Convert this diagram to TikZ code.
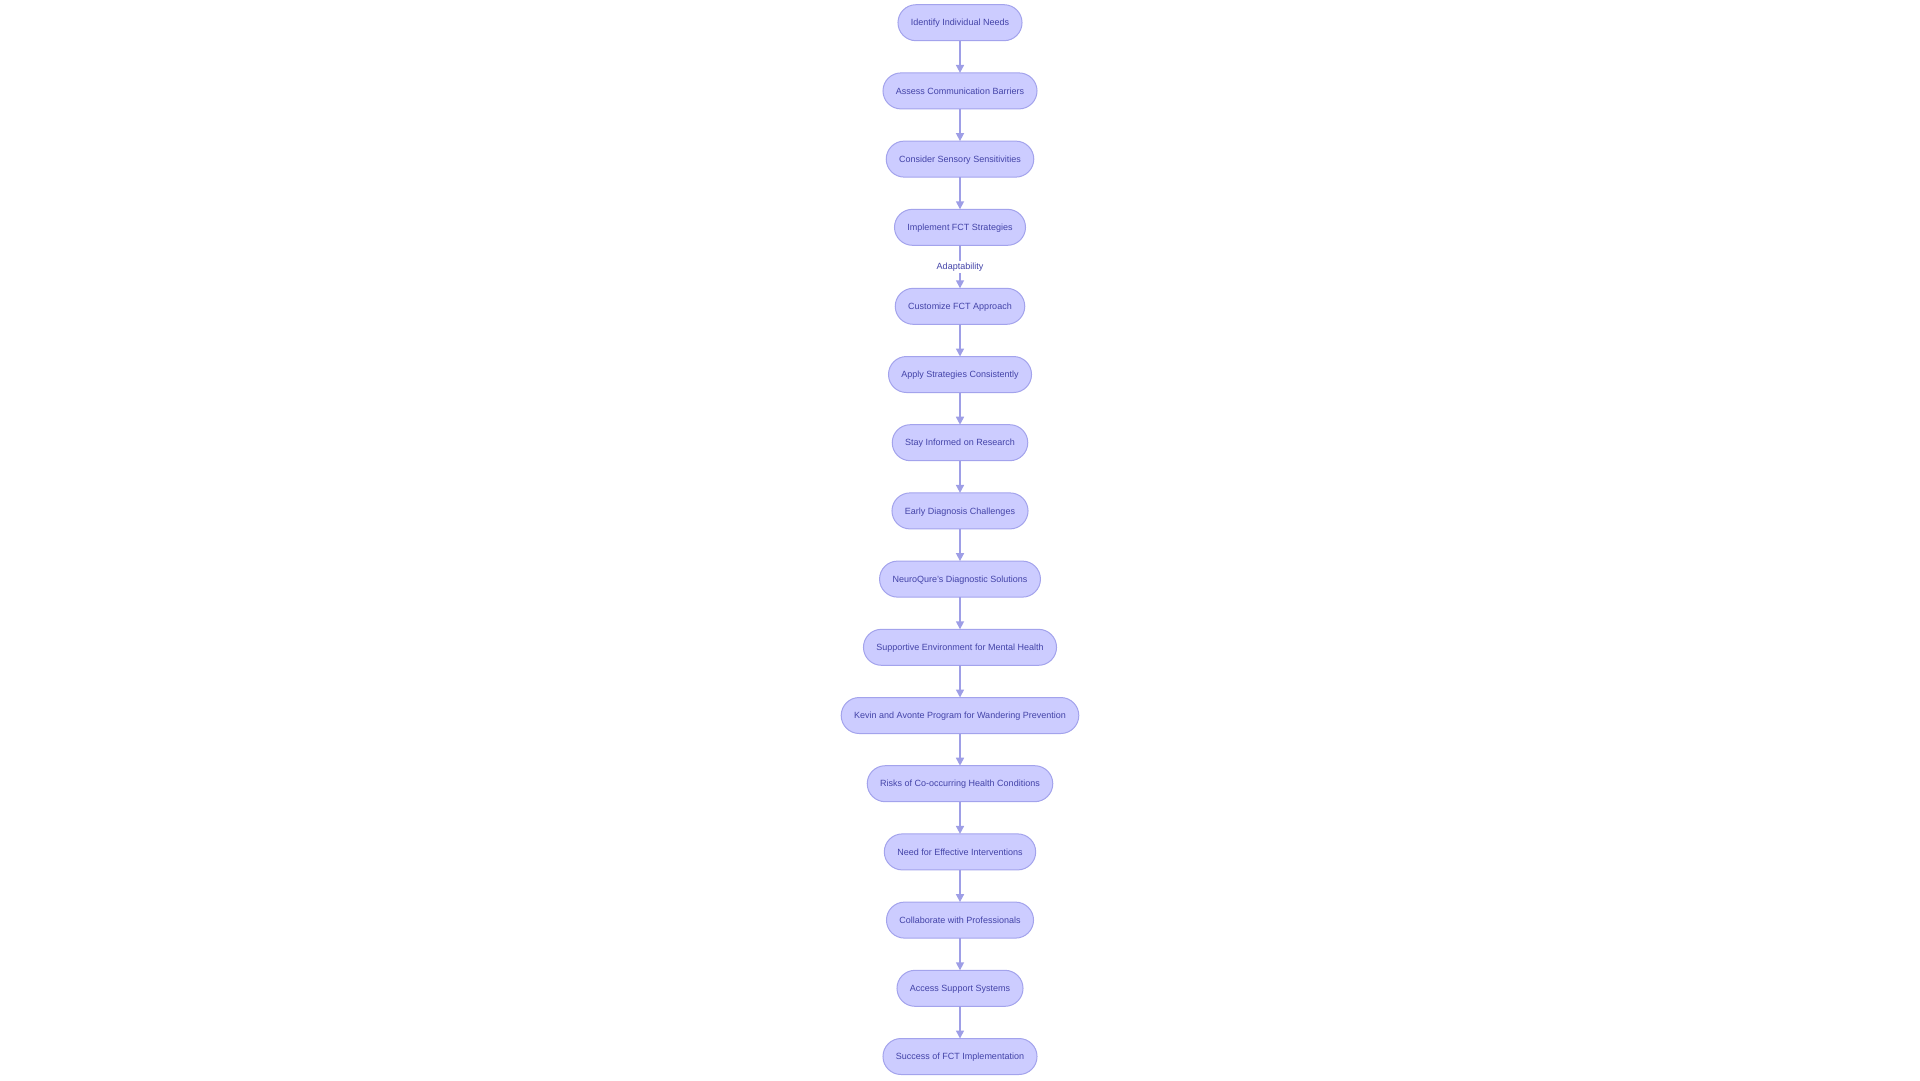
\documentclass[tikz,border=0pt]{standalone}
\usepackage{fontspec}
\setmainfont{Liberation Sans}
\usetikzlibrary{positioning,arrows.meta}
\definecolor{boxfill}{HTML}{CCCCFF}
\definecolor{boxline}{HTML}{A3A3EC}
\definecolor{boxtext}{HTML}{4343A8}
\definecolor{linkline}{HTML}{9E9EE6}
\begin{document}
\begin{tikzpicture}[x=1pt, y=1pt,
		stepbox/.style={draw=boxline, fill=boxfill, line width=1pt, rounded corners=18pt,
			minimum height=36pt, inner xsep=13pt, inner ysep=0pt, outer sep=0pt, text=boxtext,
			text height=6.5pt, text depth=0pt, font=\fontsize{9}{11}\selectfont},
		link/.style={draw=linkline, line width=1.6pt, -{Triangle[length=8pt,width=8pt]}},
		linklabel/.style={fill=white, text=boxtext, inner sep=1.5pt, font=\fontsize{9}{11}\selectfont},
		node distance=32.2pt]
		\useasboundingbox (0,0) rectangle (1920,-1080);

		\node [stepbox] (needs) at (960,-22.7) {Identify Individual Needs};
		\node [stepbox, below=of needs] (barriers) {Assess Communication Barriers};
		\node [stepbox, below=of barriers] (sensory) {Consider Sensory Sensitivities};
		\node [stepbox, below=of sensory] (fct) {Implement FCT Strategies};
		\node [stepbox, below=43pt of fct] (customize) {Customize FCT Approach};
		\node [stepbox, below=of customize] (apply) {Apply Strategies Consistently};
		\node [stepbox, below=of apply] (research) {Stay Informed on Research};
		\node [stepbox, below=of research] (diagnosis) {Early Diagnosis Challenges};
		\node [stepbox, below=of diagnosis] (neuroqure) {NeuroQure's Diagnostic Solutions};
		\node [stepbox, below=of neuroqure] (mental) {Supportive Environment for Mental Health};
		\node [stepbox, below=of mental] (kevin) {Kevin and Avonte Program for Wandering Prevention};
		\node [stepbox, below=of kevin] (risks) {Risks of Co-occurring Health Conditions};
		\node [stepbox, below=of risks] (need) {Need for Effective Interventions};
		\node [stepbox, below=of need] (collab) {Collaborate with Professionals};
		\node [stepbox, below=of collab] (support) {Access Support Systems};
		\node [stepbox, below=of support] (success) {Success of FCT Implementation};

		\draw [link] (needs) -- (barriers);
		\draw [link] (barriers) -- (sensory);
		\draw [link] (sensory) -- (fct);
		\draw [link] (fct) -- (customize) node [linklabel, midway] {Adaptability};
		\draw [link] (customize) -- (apply);
		\draw [link] (apply) -- (research);
		\draw [link] (research) -- (diagnosis);
		\draw [link] (diagnosis) -- (neuroqure);
		\draw [link] (neuroqure) -- (mental);
		\draw [link] (mental) -- (kevin);
		\draw [link] (kevin) -- (risks);
		\draw [link] (risks) -- (need);
		\draw [link] (need) -- (collab);
		\draw [link] (collab) -- (support);
		\draw [link] (support) -- (success);
	\end{tikzpicture}
\end{document}
